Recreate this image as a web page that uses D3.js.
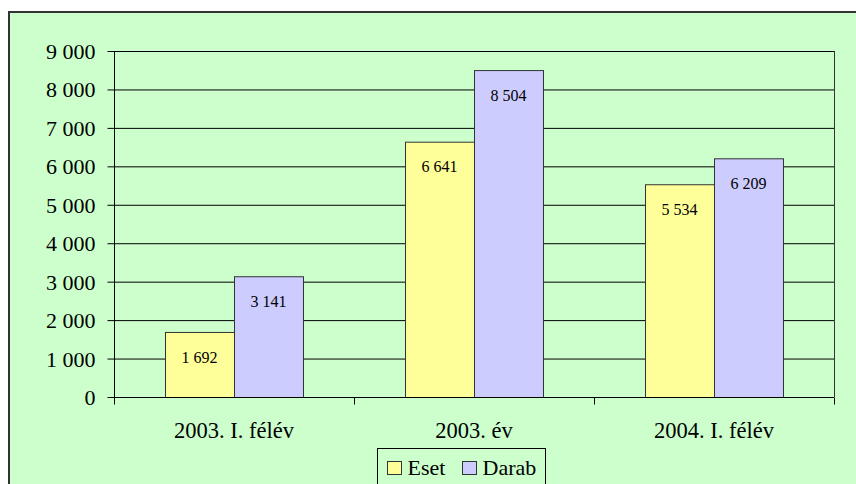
<!DOCTYPE html>
<html>
<head>
<meta charset="utf-8">
<script src="https://cdn.jsdelivr.net/npm/d3@7"></script>
<style>
  body { margin: 0; background: #fff; }
</style>
</head>
<body>
<svg id="chart"></svg>
<script>
// ── Data ──────────────────────────────────────────────────────────────────────
const CATEGORIES = ["2003. I. félév", "2003. év", "2004. I. félév"];
const SERIES     = ["Eset", "Darab"];
const ESET       = [1692, 6641, 5534];
const DARAB      = [3141, 8504, 6209];
const Y_TICKS    = [0, 1000, 2000, 3000, 4000, 5000, 6000, 7000, 8000, 9000];

const COLORS = { Eset: "#FFFF99", Darab: "#CCCCFF" };
const SERIF  = "Liberation Serif";
const VW = 856, VH = 484;
const fmt = v => d3.format(",")(v).replace(/,/g, " ");

const svg = d3.select("#chart").attr("width", VW).attr("height", VH);

// chart area background + border (runs off the right/bottom edge)
svg.append("rect")
  .attr("x", 9).attr("y", 12).attr("width", 900).attr("height", 520)
  .attr("fill", "#CCFFCC").attr("stroke", "#333").attr("stroke-width", 2);

const P = { left: 114, top: 51, right: 834, bottom: 397 };

const x  = d3.scaleBand().domain(CATEGORIES).range([P.left, P.right]);
const xs = d3.scaleBand().domain(SERIES).range([0, 138]);
const y  = d3.scaleLinear().domain([0, 9000]).range([P.bottom, P.top]);

// gridlines
svg.append("g").selectAll("line").data(Y_TICKS.filter(d => d > 0)).join("line")
  .attr("x1", P.left).attr("x2", P.right)
  .attr("y1", d => y(d) + 0.5).attr("y2", d => y(d) + 0.5)
  .attr("stroke", "#000").attr("stroke-width", 1);

// right border of plot area
svg.append("line")
  .attr("x1", P.right + 0.5).attr("x2", P.right + 0.5)
  .attr("y1", P.top).attr("y2", P.bottom)
  .attr("stroke", "#333");

// bars
const rows = CATEGORIES.map((c, i) => ({ cat: c, Eset: ESET[i], Darab: DARAB[i] }));
const groups = svg.append("g").selectAll("g").data(rows).join("g")
  .attr("transform", d => `translate(${x(d.cat) + (x.bandwidth() - 138) / 2},0)`);

groups.selectAll("rect").data(d => SERIES.map(k => ({ key: k, v: d[k] }))).join("rect")
  .attr("x", d => xs(d.key) + 0.5)
  .attr("y", d => y(d.v) + 0.5)
  .attr("width", xs.bandwidth())
  .attr("height", d => y(0) - y(d.v))
  .attr("fill", d => COLORS[d.key])
  .attr("stroke", "#333").attr("stroke-width", 1);

groups.selectAll("text").data(d => SERIES.map(k => ({ key: k, v: d[k] }))).join("text")
  .attr("x", d => xs(d.key) + xs.bandwidth() / 2)
  .attr("y", d => y(d.v) + 25)
  .attr("dy", "0.35em")
  .attr("text-anchor", "middle")
  .attr("font-family", SERIF)
  .attr("font-size", "16px")
  .text(d => fmt(d.v));

// y axis
const yAxis = svg.append("g").attr("transform", `translate(${P.left + 0.5},0)`)
  .call(d3.axisLeft(y).tickValues(Y_TICKS).tickFormat(fmt).tickSize(7).tickPadding(12));
yAxis.select(".domain").attr("stroke", "#000").attr("d", `M0,${P.top}V${P.bottom}`);
yAxis.selectAll(".tick line").attr("stroke", "#000");
yAxis.selectAll("text")
  .attr("font-family", SERIF).attr("font-size", "22px")
  .attr("fill", "#000").attr("dy", "0.34em");

// x axis
const xAxisG = svg.append("g").attr("transform", `translate(0,${P.bottom + 0.5})`);
xAxisG.append("line").attr("x1", P.left).attr("x2", P.right).attr("stroke", "#000");
const bounds = [P.left, ...CATEGORIES.map(c => x(c) + x.bandwidth())];
xAxisG.selectAll("line.tk").data(bounds).join("line").attr("class", "tk")
  .attr("x1", d => d + 0.5).attr("x2", d => d + 0.5).attr("y1", 0).attr("y2", 7)
  .attr("stroke", "#000");
xAxisG.selectAll("text").data(CATEGORIES).join("text")
  .attr("x", d => x(d) + x.bandwidth() / 2)
  .attr("y", 40)
  .attr("text-anchor", "middle")
  .attr("font-family", SERIF)
  .attr("font-size", "22.5px")
  .text(d => d);

// legend
const leg = svg.append("g").attr("transform", "translate(377.5,448.5)");
leg.append("rect").attr("width", 168).attr("height", 60)
  .attr("fill", "#CCFFCC").attr("stroke", "#000");
const items = [{ k: "Eset", x: 10 }, { k: "Darab", x: 85 }];
items.forEach(it => {
  leg.append("rect").attr("x", it.x).attr("y", 13).attr("width", 14).attr("height", 13)
    .attr("fill", COLORS[it.k]).attr("stroke", "#333");
  leg.append("text").attr("x", it.x + 20).attr("y", 26)
    .attr("font-family", SERIF)
    .attr("font-size", "22px").text(it.k);
});
</script>
</body>
</html>
